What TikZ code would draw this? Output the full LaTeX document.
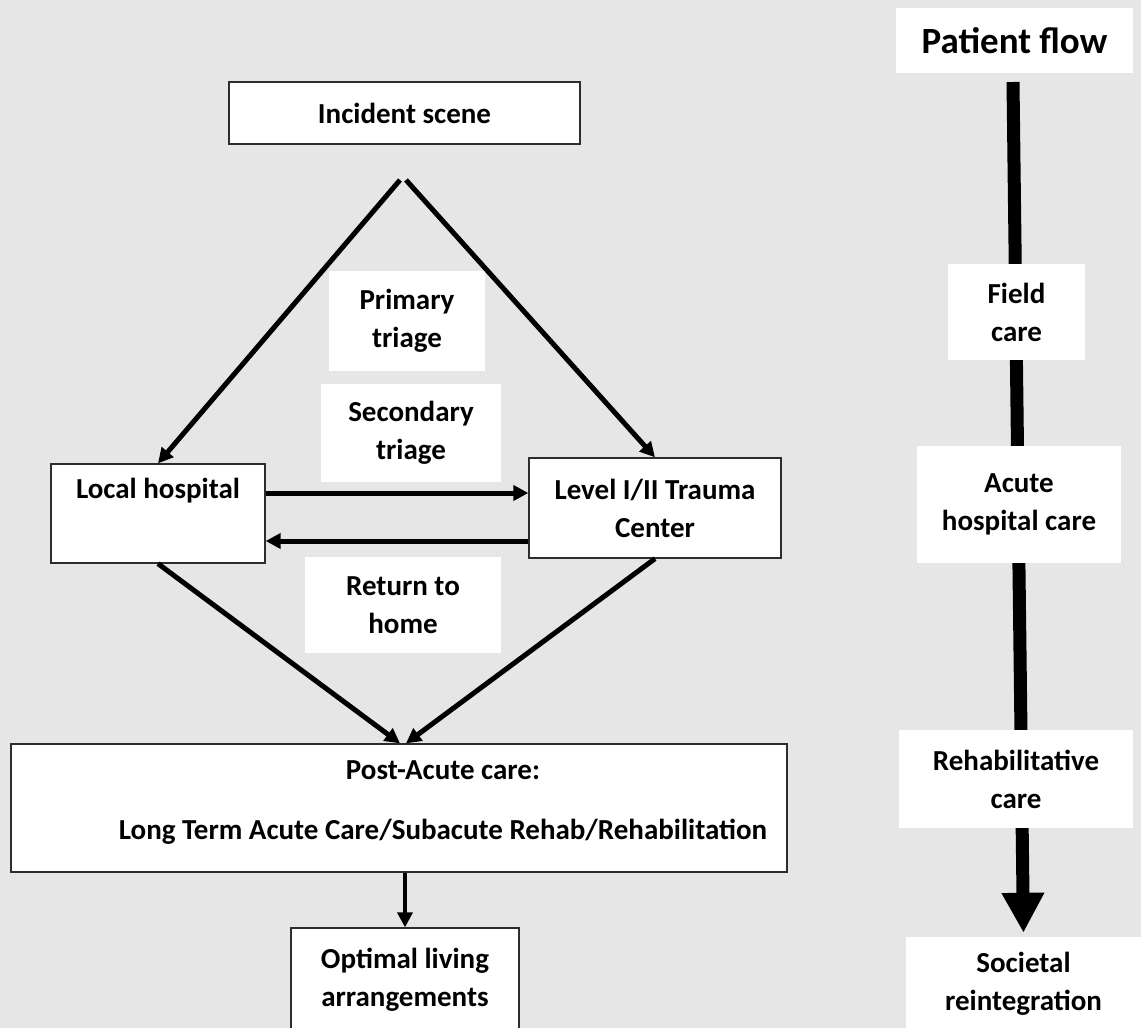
\documentclass[tikz,border=0pt]{standalone}
\usepackage{fontspec}
\setmainfont{Carlito}
\usepackage{tikz}
\usetikzlibrary{positioning,arrows.meta,backgrounds}
\definecolor{PageGray}{RGB}{231,230,230}
\definecolor{EdgeGray}{RGB}{45,45,45}

\begin{document}
\begin{tikzpicture}[x=1pt, y=-1pt,
    box/.style={rectangle, draw=EdgeGray, line width=1.3pt, fill=white,
        inner sep=0pt, align=center, font=\fontsize{29}{38}\selectfont\bfseries},
    tag/.style={rectangle, fill=white, inner sep=0pt, align=center,
        font=\fontsize{29}{38}\selectfont\bfseries},
    arr/.style={-{Triangle[length=15pt,width=15pt]}, line width=5pt},
    flow/.style={-{Triangle[length=40pt,width=40pt]}, line width=13pt},
]
\useasboundingbox (0,0) rectangle (1141,1028);

\node[box, minimum width=351pt, minimum height=62pt] (incident) at (404.5,113) {Incident scene};
\node[tag, minimum width=156pt, minimum height=100pt] (primary) at (407,321) {Primary\\triage};
\node[tag, minimum width=180pt, minimum height=98pt] (secondary) at (411,433) {Secondary\\triage};
\node[box, minimum width=214pt, minimum height=99pt] (local) at (158,513.5) {Local hospital\\\strut};
\node[box, minimum width=252pt, minimum height=100pt] (level) at (655,508) {Level I/II Trauma\\Center};
\node[tag, minimum width=196pt, minimum height=96pt] (home) at (403,605) {Return to\\home};
\node[box, minimum width=776pt, minimum height=128pt] (post) at (399,808) {};
\node[font=\fontsize{29}{38}\selectfont\bfseries, align=center] (posttext) at (443,803)
    {Post-Acute care:\\[22pt]Long Term Acute Care/Subacute Rehab/Rehabilitation};
\node[box, minimum width=228pt, minimum height=104pt] (optimal) at (405,980) {Optimal living\\arrangements};

\node[tag, minimum width=237pt, minimum height=65pt, font=\fontsize{37}{44}\selectfont\bfseries] (flowhead) at (1014.5,40.5) {Patient flow};
\node[tag, minimum width=137pt, minimum height=96pt] (field) at (1016.5,312) {Field\\care};
\node[tag, minimum width=204pt, minimum height=117pt] (acute) at (1019,504.5) {Acute\\hospital care};
\node[tag, minimum width=234pt, minimum height=98pt] (rehab) at (1016,779) {Rehabilitative\\care};
\node[tag, minimum width=235pt, minimum height=93pt] (societal) at (1023.5,983.5) {Societal\\reintegration};

\coordinate (forkl) at (400,180);
\coordinate (forkr) at (406,180);
\coordinate (flowtop) at (1013,82);

\draw[arr] (forkl) -- (local.north);
\draw[arr] (forkr) -- (level.north);
\draw[arr] ([yshift=20.5pt]local.east) -- ([yshift=15pt]level.west);
\draw[arr] ([yshift=-33pt]level.west) -- ([yshift=-27.5pt]local.east);
\draw[arr] (local.south) -- ([xshift=1pt]post.north);
\draw[arr] (level.south) -- ([xshift=7pt]post.north);
\draw[arr, line width=3.5pt] (post.south -| optimal.north) -- (optimal.north);

\begin{scope}[on background layer]
\fill[PageGray] (0,0) rectangle (1141,1028);
\draw[flow, shorten >=4pt] (flowtop) -- (societal.north);
\end{scope}
\end{tikzpicture}
\end{document}
